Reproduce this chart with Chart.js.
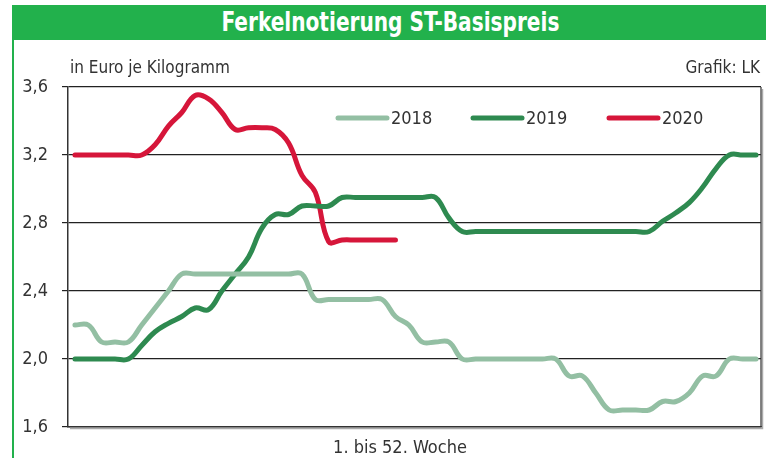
<!DOCTYPE html>
<html>
<head>
<meta charset="utf-8">
<script src="https://cdn.jsdelivr.net/npm/chart.js@4.4.1/dist/chart.umd.min.js"></script>
<style>
    html, body { margin: 0; padding: 0; background: #fff; }
    body { width: 766px; height: 458px; position: relative; overflow: hidden;
           font-family: 'Liberation Sans Narrow', 'DejaVu Sans Condensed', sans-serif; }
    #frame { position: absolute; left: 12px; top: 5px; width: 760px; height: 470px;
             border-left: 2px solid #22b14c; }
    #title { position: absolute; left: 12px; top: 5px; width: 756px; height: 35px;
             background: #22b14c; color: #fff; font-weight: bold; font-size: 26px;
             line-height: 35px; text-align: center; z-index: 2; }
    #title span { display: inline-block; transform: scaleX(0.86); }
    #unit { position: absolute; left: 70px; top: 57px; font-size: 17px; color: #333; z-index: 2; }
    #source { position: absolute; right: 6px; top: 57px; font-size: 17px; color: #333; z-index: 2; }
    #xlabel { position: absolute; left: 0; width: 800px; top: 436px; text-align: center;
              font-size: 18px; color: #333; z-index: 2; }
    canvas { position: absolute; left: 0; top: 0; }
</style>
</head>
<body>
<div id="frame"></div>
<div id="title"><span>Ferkelnotierung ST-Basispreis</span></div>
<div id="unit">in Euro je Kilogramm</div>
<div id="source">Grafik: LK</div>
<div id="xlabel">1. bis 52. Woche</div>
<canvas id="chart" width="766" height="458"></canvas>
<script>
// Ferkelnotierung, Euro je kg, Woche 1 bis 52
var weeks = [1, 2, 3, 4, 5, 6, 7, 8, 9, 10, 11, 12, 13, 14, 15, 16, 17, 18, 19, 20,
    21, 22, 23, 24, 25, 26, 27, 28, 29, 30, 31, 32, 33, 34, 35, 36, 37, 38, 39, 40,
    41, 42, 43, 44, 45, 46, 47, 48, 49, 50, 51, 52];

var prices2018 = [2.2, 2.2, 2.1, 2.1, 2.1, 2.2, 2.3, 2.4, 2.5, 2.5, 2.5, 2.5, 2.5, 2.5, 2.5, 2.5, 2.5, 2.5, 2.35, 2.35,
    2.35, 2.35, 2.35, 2.35, 2.25, 2.2, 2.1, 2.1, 2.1, 2.0, 2.0, 2.0, 2.0, 2.0, 2.0, 2.0, 2.0, 1.9, 1.9, 1.8,
    1.7, 1.7, 1.7, 1.7, 1.75, 1.75, 1.8, 1.9, 1.9, 2.0, 2.0, 2.0];

var prices2019 = [2.0, 2.0, 2.0, 2.0, 2.0, 2.08, 2.16, 2.21, 2.25, 2.3, 2.29, 2.4, 2.5, 2.6, 2.77, 2.85, 2.85, 2.9, 2.9, 2.9,
    2.95, 2.95, 2.95, 2.95, 2.95, 2.95, 2.95, 2.95, 2.83, 2.75, 2.75, 2.75, 2.75, 2.75, 2.75, 2.75, 2.75, 2.75, 2.75, 2.75,
    2.75, 2.75, 2.75, 2.75, 2.81, 2.86, 2.92, 3.01, 3.12, 3.2, 3.2, 3.2];

var prices2020 = [3.2, 3.2, 3.2, 3.2, 3.2, 3.2, 3.26, 3.37, 3.45, 3.55, 3.53, 3.45, 3.35, 3.36, 3.36, 3.35, 3.27, 3.08, 2.98, 2.69,
    2.7, 2.7, 2.7, 2.7, 2.7];

var seriesLabels = ['2018', '2019', '2020'];
var seriesColors = ['#93bfa3', '#2e8a50', '#d6163a'];
var yTicks = [1.6, 2.0, 2.4, 2.8, 3.2, 3.6];

var FONT = "'Liberation Sans Narrow', 'DejaVu Sans Condensed', sans-serif";

function toPoints(values) {
    return values.map(function(v, i) { return { x: weeks[i], y: v }; });
}

// Rahmen rechts um den Plotbereich
var framePlugin = {
    id: 'frame',
    afterDatasetsDraw: function(chart) {
        var a = chart.chartArea, ctx = chart.ctx;
        ctx.save();
        ctx.strokeStyle = '#aaa';
        ctx.lineWidth = 1.5;
        ctx.beginPath();
        ctx.moveTo(a.right + 1.5, a.top + 2);
        ctx.lineTo(a.right + 1.5, a.bottom + 1.5);
        ctx.lineTo(a.left + 2, a.bottom + 1.5);
        ctx.stroke();
        ctx.strokeStyle = '#333';
        ctx.lineWidth = 1.2;
        ctx.beginPath();
        ctx.moveTo(a.right, a.top);
        ctx.lineTo(a.right, a.bottom);
        ctx.stroke();
        ctx.restore();
    }
};

// Legende im Diagramm
var legendPlugin = {
    id: 'innerLegend',
    afterDatasetsDraw: function(chart, args, opts) {
        var ctx = chart.ctx;
        ctx.save();
        ctx.font = '18px ' + FONT;
        ctx.textBaseline = 'middle';
        chart.data.datasets.forEach(function(ds, i) {
            var x = opts.starts[i], y = opts.y;
            ctx.strokeStyle = ds.borderColor;
            ctx.lineWidth = 5;
            ctx.lineCap = 'round';
            ctx.beginPath();
            ctx.moveTo(x, y);
            ctx.lineTo(x + 49, y);
            ctx.stroke();
            ctx.fillStyle = '#333';
            ctx.fillText(ds.label, x + 53, y + 1);
        });
        ctx.restore();
    }
};

var datasets = [prices2018, prices2019, prices2020].map(function(values, i) {
    return {
        label: seriesLabels[i],
        data: toPoints(values),
        borderColor: seriesColors[i],
        borderWidth: 5,
        borderCapStyle: 'round',
        borderJoinStyle: 'round',
        pointRadius: 0,
        tension: 0.4,
        fill: false
    };
});

new Chart(document.getElementById('chart'), {
    type: 'line',
    data: { datasets: datasets },
    options: {
        responsive: false,
        animation: false,
        events: [],
        layout: { padding: { left: 0, right: 5, top: 87, bottom: 31 } },
        plugins: {
            legend: { display: false },
            tooltip: { enabled: false },
            innerLegend: { y: 118, starts: [338, 473, 609] }
        },
        scales: {
            x: {
                type: 'linear',
                min: 0.48,
                max: 52.37,
                ticks: { display: false },
                grid: { display: false },
                border: { display: true, color: '#333', width: 1.5 },
                afterFit: function(s) { s.height = 0; }
            },
            y: {
                min: 1.6,
                max: 3.6,
                afterBuildTicks: function(s) {
                    s.ticks = yTicks.map(function(v) { return { value: v }; });
                },
                ticks: {
                    padding: 14,
                    color: '#333',
                    font: { family: FONT, size: 18 },
                    callback: function(value) {
                        return value.toFixed(1).replace('.', ',');
                    }
                },
                grid: { color: '#222', lineWidth: 1.2, tickLength: 6 },
                border: { display: true, color: '#333', width: 1.5 },
                afterFit: function(s) { s.width = 68; }
            }
        }
    },
    plugins: [framePlugin, legendPlugin]
});
</script>
</body>
</html>
